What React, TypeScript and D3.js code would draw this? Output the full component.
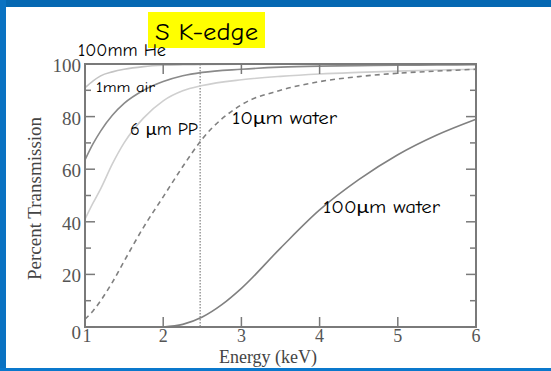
import * as d3 from "d3";

// photon energy grid (keV) and percent transmission
const energies = [1, 1.1, 1.2, 1.35, 1.5, 1.75, 2, 2.25, 2.5, 3, 3.5, 4, 4.5, 5, 5.5, 6];
const heliumT = [91, 93.5, 95.5, 97, 98, 99, 99.5, 99.7, 99.8, 99.9, 100, 100, 100, 100, 100, 100];
const airT = [63.5, 69.5, 74.5, 80.5, 85, 90, 93.3, 95.5, 96.8, 98, 98.8, 99.2, 99.4, 99.5, 99.6, 99.7];
const ppT = [41, 47, 52.5, 62, 70, 79.5, 86, 89.8, 91.8, 94, 95.3, 96.2, 96.8, 97.3, 97.7, 98];
const water10T = [3, 6, 10, 17, 25, 38, 49.5, 61, 71.5, 84.5, 90, 93.3, 95.2, 96.5, 97.3, 98];
const water100E = [2, 2.25, 2.5, 2.75, 3, 3.5, 4, 4.5, 5, 5.5, 6];
const water100T = [0, 1, 3.8, 8.5, 14.7, 30, 44.5, 56, 65.5, 73, 79];

const kEdge = 2.472;
const xTicks = [1, 2, 3, 4, 5, 6];
const yTicks = [0, 20, 40, 60, 80, 100];
const yMinor = [10, 30, 50, 70, 90];

const W = 551;
const H = 371;
const left = 85;
const right = 476;
const top = 64;
const bottom = 327;

const comic = "'Comic Sans MS', 'Comic Neue', Lato, sans-serif";
const serif = "'Liberation Serif', 'DejaVu Serif', serif";

const App = () => {
  const x = d3.scaleLinear().domain([1, 6]).range([left, right]);
  const y = d3.scaleLinear().domain([0, 100]).range([bottom, top]);

  const line = d3
    .line<[number, number]>()
    .x((d) => x(d[0]))
    .y((d) => y(d[1]))
    .curve(d3.curveMonotoneX);

  const zip = (xs: number[], ys: number[]) => xs.map((e, i) => [e, ys[i]] as [number, number]);

  const series = [
    { name: "he", pts: zip(energies, heliumT), stroke: "#c4c4c4", dash: undefined },
    { name: "air", pts: zip(energies, airT), stroke: "#8a8a8a", dash: undefined },
    { name: "pp", pts: zip(energies, ppT), stroke: "#cfcfcf", dash: undefined },
    { name: "w10", pts: zip(energies, water10T), stroke: "#808080", dash: "5,4" },
    { name: "w100", pts: zip(water100E, water100T), stroke: "#808080", dash: undefined },
  ];

  const axisColor = "#7a7a7a";

  return (
    <div style={{ position: "fixed", left: 0, top: 0 }}>
      <svg width={W} height={H} style={{ display: "block", background: "#fff" }}>
        {/* slide border */}
        <rect x={0} y={0} width={W} height={7} fill="#0568b2" />
        <rect x={0} y={0} width={6} height={H} fill="#0a72c2" />
        <rect x={0} y={368} width={W} height={3} fill="#0a78cc" />

        {/* k-edge marker */}
        <line
          x1={x(kEdge)}
          x2={x(kEdge)}
          y1={top}
          y2={bottom}
          stroke="#666"
          strokeWidth={1}
          strokeDasharray="1.5,1.5"
        />

        {series.map((s) => (
          <path
            key={s.name}
            d={line(s.pts) || ""}
            fill="none"
            stroke={s.stroke}
            strokeWidth={1.6}
            strokeDasharray={s.dash}
          />
        ))}

        {/* frame */}
        <rect x={left} y={top} width={right - left} height={bottom - top} fill="none" stroke={axisColor} strokeWidth={2} />

        {yTicks.map((t) => (
          <g key={"y" + t}>
            <line x1={left} x2={left + 10} y1={y(t)} y2={y(t)} stroke={axisColor} strokeWidth={1.5} />
            <line x1={right} x2={right - 10} y1={y(t)} y2={y(t)} stroke={axisColor} strokeWidth={1.5} />
            <text
              x={left - 4}
              y={y(t) + (t === 0 ? 5 : 1.5)}
              textAnchor="end"
              dominantBaseline="central"
              fontFamily={serif}
              fontSize={19}
              fill="#555"
            >
              {t}
            </text>
          </g>
        ))}
        {yMinor.map((t) => (
          <g key={"m" + t}>
            <line x1={left} x2={left + 6} y1={y(t)} y2={y(t)} stroke={axisColor} strokeWidth={1.5} />
            <line x1={right} x2={right - 6} y1={y(t)} y2={y(t)} stroke={axisColor} strokeWidth={1.5} />
          </g>
        ))}
        {xTicks.map((t) => (
          <g key={"x" + t}>
            <line x1={x(t)} x2={x(t)} y1={bottom} y2={bottom - 10} stroke={axisColor} strokeWidth={1.5} />
            <line x1={x(t)} x2={x(t)} y1={top} y2={top + 10} stroke={axisColor} strokeWidth={1.5} />
            <text
              x={x(t) + (t === 1 ? 2 : 0)}
              y={342}
              textAnchor="middle"
              fontFamily={serif}
              fontSize={18}
              fill="#555"
            >
              {t}
            </text>
          </g>
        ))}

        <text x={268} y={363} textAnchor="middle" fontFamily={serif} fontSize={18} fill="#444">
          Energy (keV)
        </text>
        <text
          transform="translate(41,198.5) rotate(-90)"
          textAnchor="middle"
          fontFamily={serif}
          fontSize={19}
          fill="#444"
        >
          Percent Transmission
        </text>

        {/* annotations */}
        <rect x={148} y={12} width={117} height={36} fill="#ffff00" />
        <text x={155} y={40} fontFamily={comic} fontSize={25} fill="#000" textLength={103} lengthAdjust="spacingAndGlyphs">
          S K-edge
        </text>
        <text x={78} y={56} fontFamily={comic} fontSize={18} fill="#000" textLength={88} lengthAdjust="spacingAndGlyphs">
          100mm He
        </text>
        <text x={96} y={92} fontFamily={comic} fontSize={13} fill="#000" textLength={59} lengthAdjust="spacingAndGlyphs">
          1mm air
        </text>
        <text x={130} y={135} fontFamily={comic} fontSize={17} fill="#000" textLength={68} lengthAdjust="spacingAndGlyphs">
          6 μm PP
        </text>
        <text x={232} y={124} fontFamily={comic} fontSize={17} fill="#000" textLength={105} lengthAdjust="spacingAndGlyphs">
          10μm water
        </text>
        <text x={323} y={213} fontFamily={comic} fontSize={17} fill="#000" textLength={117} lengthAdjust="spacingAndGlyphs">
          100μm water
        </text>
      </svg>
    </div>
  );
};

export default App;
